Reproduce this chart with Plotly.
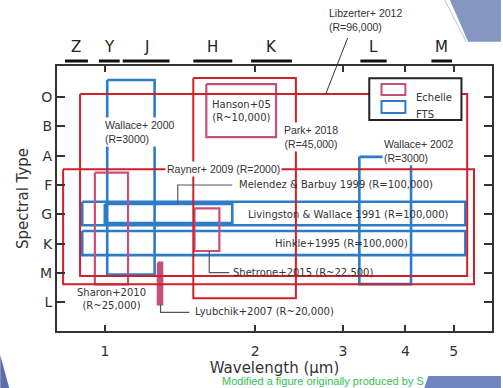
import math
import plotly.graph_objects as go

# ---------------------------------------------------------------- data
# Spectral types on a numeric axis (O=0 ... L=7)
spectral_types = ["O", "B", "A", "F", "G", "K", "M", "L"]
wavelength_ticks = [1, 2, 3, 4, 5]

# Photometric bands (microns)
band_names = ["Z", "Y", "J", "H", "K", "L", "M"]
band_lo = [0.832, 0.973, 1.086, 1.504, 1.963, 3.25, 4.51]
band_hi = [0.925, 1.071, 1.348, 1.800, 2.37, 3.67, 4.96]

# Spectral atlases / libraries: wavelength coverage and spectral-type coverage
atlas_names = ["Libzerter+ 2012", "Rayner+ 2009", "Park+ 2018", "Hanson+05",
               "Wallace+ 2000", "Wallace+ 2002", "Livingston & Wallace 1991",
               "Melendez & Barbuy 1999", "Hinkle+1995", "Shetrone+2015",
               "Sharon+2010", "Lyubchik+2007"]
atlas_res = ["R=96,000", "R=2000", "R=45,000", "R~10,000",
             "R=3000", "R=3000", "R=100,000",
             "R=100,000", "R=100,000", "R~22,500",
             "R~25,000", "R~20,000"]
atlas_kind = ["Recent", "Recent", "Recent", "Echelle",
              "FTS", "FTS", "FTS",
              "FTS", "FTS", "Echelle",
              "Echelle", "Echelle"]
atlas_lam_lo = [0.892, 0.825, 1.504, 1.597, 1.011, 3.235, 0.901, 1.000, 0.901, 1.512, 0.955, 1.277]
atlas_lam_hi = [5.32, 5.49, 2.414, 2.203, 1.258, 4.106, 5.276, 1.80, 5.276, 1.696, 1.113, 1.303]
atlas_type_lo = [-0.10, 2.46, -0.65, -0.44, -0.58, 2.04, 3.57, 3.65, 4.57, 3.80, 2.58, 5.65]
atlas_type_hi = [6.10, 6.38, 6.86, 1.37, 6.05, 6.38, 4.37, 4.30, 5.39, 5.25, 6.39, 7.07]
atlas_filled = [False] * 11 + [True]

# ---------------------------------------------------------------- layout helpers
W, H = 503, 388
ML, MR, MT, MB = 57, 9, 66, 57
PW, PH = W - ML - MR, H - MT - MB
X_RANGE = [math.log10(0.802), math.log10(5.965)]
Y_RANGE = [7.978, -1.057]


def pxx(x):
    """pixel column -> paper x"""
    return (x - ML) / PW


def pxy(y):
    """pixel row -> paper y"""
    return (H - MB - y) / PH


def dxx(lam):
    """wavelength -> paper x"""
    return (math.log10(lam) - X_RANGE[0]) / (X_RANGE[1] - X_RANGE[0])


def dxy(t):
    """spectral type -> paper y"""
    return (Y_RANGE[0] - t) / (Y_RANGE[0] - Y_RANGE[1])


KIND_COLOR = {"Echelle": "#c4507b", "FTS": "#2c7cc7", "Recent": "#d0202b"}
KIND_WIDTH = {"Echelle": 2.2, "FTS": 2.6, "Recent": 2.0}
FONT_A = "Liberation Sans"
FONT_B = "DejaVu Sans"
TEXT_C = "#333333"

fig = go.Figure()

# rectangles: FTS underneath, then echelle, then the recent libraries
for kind in ["FTS", "Echelle", "Recent"]:
    for i, k in enumerate(atlas_kind):
        if k != kind:
            continue
        x0, x1 = atlas_lam_lo[i], atlas_lam_hi[i]
        y0, y1 = atlas_type_lo[i], atlas_type_hi[i]
        fig.add_trace(go.Scatter(
            x=[x0, x1, x1, x0, x0], y=[y0, y0, y1, y1, y0],
            mode="lines",
            line=dict(color=KIND_COLOR[k], width=KIND_WIDTH[k]),
            fill="toself" if atlas_filled[i] else None,
            fillcolor=KIND_COLOR[k] if atlas_filled[i] else None,
            hoverinfo="skip", showlegend=False, name=atlas_names[i]))

idx = {n: i for i, n in enumerate(atlas_names)}

# elbow leader lines from boxes to their labels
leaders = {
    "Melendez & Barbuy 1999": ([1.40, 1.40, 1.80], "lo", [3.0, 3.0]),
    "Shetrone+2015": ([1.619, 1.619, 1.775], "hi", [5.99, 5.99]),
    "Lyubchik+2007": ([1.293, 1.293, 1.477], "hi", [7.34, 7.34]),
}
for name, (xs, edge, ys) in leaders.items():
    i = idx[name]
    y_start = atlas_type_lo[i] if edge == "lo" else atlas_type_hi[i]
    fig.add_trace(go.Scatter(x=xs, y=[y_start] + ys, mode="lines",
                             line=dict(color="#555555", width=1.2),
                             hoverinfo="skip", showlegend=False))

annotations = []


def lab(name, x, y, two_line=False, xanchor="center", font=FONT_A, size=10.5,
        bg=None, align="center", ref="data"):
    i = idx[name]
    sep = "<br>" if two_line else " "
    text = f"{name}{sep}({atlas_res[i]})"
    a = dict(text=text, showarrow=False, xanchor=xanchor, yanchor="middle",
             align=align, font=dict(family=font, size=size, color=TEXT_C),
             borderpad=1)
    if ref == "data":
        a.update(x=math.log10(x), y=y, xref="x", yref="y")
    else:
        a.update(x=x, y=y, xref="paper", yref="paper")
    if bg:
        a["bgcolor"] = bg
    annotations.append(a)


lab("Libzerter+ 2012", pxx(328), pxy(20), two_line=True, xanchor="left",
    align="left", ref="paper")
lab("Rayner+ 2009", 1.727, atlas_type_lo[idx["Rayner+ 2009"]], bg="white")
lab("Park+ 2018", 2.586, 1.347, two_line=True, bg="white")
lab("Hanson+05", 1.876, 0.465, two_line=True, font=FONT_B, size=10)
lab("Wallace+ 2000", 0.991, 1.187, two_line=True, xanchor="left", align="left", bg="white")
lab("Wallace+ 2002", 3.583, 1.84, two_line=True, xanchor="left", align="left", bg="white")
lab("Livingston & Wallace 1991", 3.076, 4.0, font=FONT_B, size=10)
lab("Melendez & Barbuy 1999", 1.842, 3.0, xanchor="left", font=FONT_B, size=10)
lab("Hinkle+1995", 2.982, 5.0, font=FONT_B, size=10)
lab("Shetrone+2015", 1.789, 5.99, xanchor="left", font=FONT_B, size=10)
lab("Sharon+2010", 1.031, 6.88, two_line=True, font=FONT_B, size=10)
lab("Lyubchik+2007", 1.500, 7.33, xanchor="left", font=FONT_B, size=10)

shapes = []

# leader for the Libzerter label, ending on the top edge of its box
shapes.append(dict(type="line", xref="paper", yref="paper",
                   x0=dxx(2.77), y0=dxy(atlas_type_lo[idx["Libzerter+ 2012"]]),
                   x1=pxx(349), y1=pxy(38), line=dict(color="#333333", width=1)))

# photometric band bars above the frame
for name, lo, hi in zip(band_names, band_lo, band_hi):
    shapes.append(dict(type="line", xref="x", yref="paper", x0=lo, x1=hi,
                       y0=pxy(61), y1=pxy(61), line=dict(color="#111111", width=3)))
    annotations.append(dict(x=math.log10(math.sqrt(lo * hi)), y=pxy(58), xref="x",
                            yref="paper", yanchor="bottom", text=name, showarrow=False,
                            font=dict(family=FONT_B, size=15, color="#222222")))

# legend box
shapes.append(dict(type="rect", xref="paper", yref="paper", x0=pxx(370.7), x1=pxx(463.3),
                   y0=pxy(120), y1=pxy(78.3), line=dict(color="#222222", width=2),
                   fillcolor="white"))
for kind, ytop, ybot, ytxt in [("Echelle", 84, 95, 89.5), ("FTS", 101, 113, 107)]:
    shapes.append(dict(type="rect", xref="paper", yref="paper", x0=pxx(383), x1=pxx(407),
                       y0=pxy(ybot), y1=pxy(ytop),
                       line=dict(color=KIND_COLOR[kind], width=2)))
    annotations.append(dict(x=pxx(416), y=pxy(ytxt), xref="paper", yref="paper",
                            text=kind, showarrow=False, xanchor="left",
                            font=dict(family=FONT_B, size=10, color=TEXT_C)))


# slide decorations
def path(points):
    return "M " + " L ".join(f"{pxx(x)},{pxy(y)}" for x, y in points) + " Z"


shapes.append(dict(type="path", xref="paper", yref="paper",
                   path=path([(451.7, 0), (470, 41.7), (503, 41.7), (503, 0)]),
                   fillcolor="#8596c2", line=dict(width=0)))
shapes.append(dict(type="line", xref="paper", yref="paper", x0=pxx(446.5), y0=pxy(0),
                   x1=pxx(468), y1=pxy(41.7), line=dict(color="#b4c2e2", width=1)))
shapes.append(dict(type="path", xref="paper", yref="paper",
                   path=path([(430, 376), (503, 376), (503, 388), (426, 388)]),
                   fillcolor="#6f86c0", line=dict(width=0)))
shapes.append(dict(type="path", xref="paper", yref="paper",
                   path=path([(0, 355), (9, 388), (0, 388)]),
                   fillcolor="#5d6fa8", line=dict(width=0)))

annotations.append(dict(x=pxx(222), y=pxy(388), xref="paper", yref="paper",
                        text="Modified a figure originally produced by S",
                        showarrow=False, xanchor="left", yanchor="bottom", borderpad=0,
                        font=dict(family=FONT_A, size=11, color="#2ec44e")))

axis_common = dict(showline=True, linecolor="#333333", linewidth=2, mirror="ticks",
                   ticks="inside", tickcolor="#333333", showgrid=False, zeroline=False,
                   tickfont=dict(family=FONT_B, size=14, color=TEXT_C))

fig.update_layout(
    width=W, height=H,
    margin=dict(l=ML, r=MR, t=MT, b=MB),
    paper_bgcolor="white", plot_bgcolor="white",
    xaxis=dict(type="log", range=X_RANGE,
               tickvals=wavelength_ticks, ticktext=[str(v) for v in wavelength_ticks],
               ticklen=6, tickwidth=1.5, ticklabelstandoff=6,
               title=dict(text="Wavelength (\u03bcm)", standoff=1,
                          font=dict(family=FONT_B, size=15, color=TEXT_C)),
               **axis_common),
    yaxis=dict(range=Y_RANGE, tickvals=list(range(len(spectral_types))),
               ticktext=spectral_types, ticklen=8, tickwidth=1.5,
               title=dict(text="Spectral Type", standoff=8,
                          font=dict(family=FONT_B, size=15, color=TEXT_C)),
               **axis_common),
    shapes=shapes, annotations=annotations,
    showlegend=False,
)

fig.write_html("out.html")
